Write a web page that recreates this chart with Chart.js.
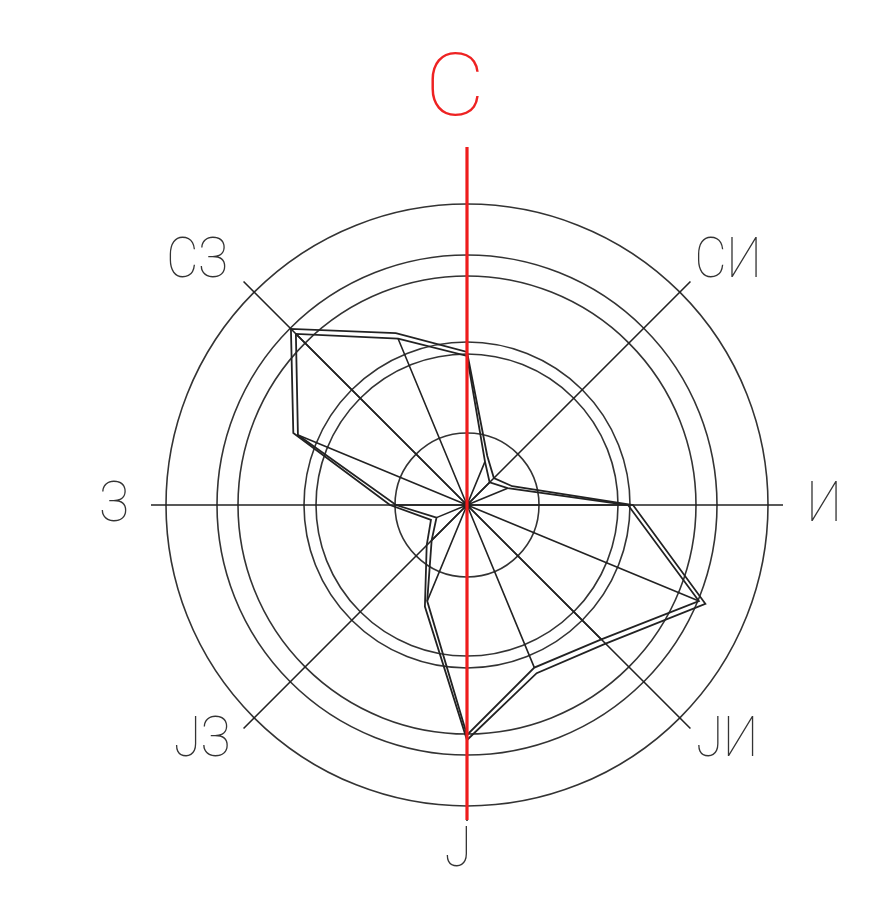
<!DOCTYPE html>
<html>
<head>
<meta charset="utf-8">
<script src="https://cdn.jsdelivr.net/npm/chart.js@4"></script>
<style>
  html, body { margin: 0; padding: 0; background: #fff; }
  canvas { display: block; }
</style>
</head>
<body>
<canvas id="ruza" width="892" height="900"></canvas>
<script>
// 16 pravaca, od severa u smeru kazaljke
const pravci = ['С', 'ССИ', 'СИ', 'ИСИ', 'И', 'ИЈИ', 'ЈИ', 'ЈЈИ', 'Ј', 'ЈЈЗ', 'ЈЗ', 'ЗЈЗ', 'З', 'ЗСЗ', 'СЗ', 'ССЗ'];
const unutrasnja = [149, 47, 32, 44, 161, 251, 190, 176, 230, 104, 50, 33, 71, 183, 242, 180];
const spoljasnja = [153, 53, 38, 49, 166, 258, 196, 182, 235, 110, 57, 39, 77, 188, 249, 186];
const krugovi = [0, 72, 151, 163, 229, 250, 301];
const glavniPravci = ['С', 'СИ', 'И', 'ЈИ', 'Ј', 'ЈЗ', 'З', 'СЗ'];

const crtez = {
    id: 'crtez',
    beforeDatasetsDraw(chart) {
        const ctx = chart.ctx;
        const r = chart.scales.r;
        const cx = r.xCenter, cy = r.yCenter;
        ctx.save();
        ctx.strokeStyle = '#222';
        ctx.lineWidth = 1.6;
        // osnovne ose
        ctx.beginPath();
        for (let i = 0; i < 16; i += 2) {
            const p = r.getPointPosition(i, 316);
            ctx.moveTo(cx, cy);
            ctx.lineTo(p.x, p.y);
        }
        ctx.stroke();
        // zraci do tacaka
        const meta = chart.getDatasetMeta(0);
        ctx.beginPath();
        meta.data.forEach(pt => {
            ctx.moveTo(cx, cy);
            ctx.lineTo(pt.x, pt.y);
        });
        ctx.stroke();
        ctx.restore();
    },
    afterDatasetsDraw(chart) {
        const ctx = chart.ctx;
        const r = chart.scales.r;
        const cx = r.xCenter, cy = r.yCenter;
        ctx.save();
        // crvena osa sever-jug
        ctx.strokeStyle = '#ee1c1c';
        ctx.lineWidth = 3.2;
        const gore = r.getPointPosition(0, 358);
        const dole = r.getPointPosition(8, 315);
        ctx.beginPath();
        ctx.moveTo(gore.x, gore.y);
        ctx.lineTo(dole.x, dole.y);
        ctx.stroke();

        ctx.textAlign = 'center';
        ctx.textBaseline = 'middle';
        ctx.fillStyle = '#ee2222';
        ctx.font = '100 88px Roboto, "DejaVu Sans", sans-serif';
        ctx.save();
        ctx.translate(cx - 12, cy - 412);
        ctx.scale(1.05, 1);
        ctx.fillText('С', 0, 0);
        ctx.restore();

        ctx.fillStyle = '#333';
        ctx.font = '100 55px Roboto, "DejaVu Sans", sans-serif';
        const mesta = {
            'СИ': [261, -242], 'И': [357, 2], 'ЈИ': [260, 237], 'Ј': [-9, 347],
            'ЈЗ': [-265, 237], 'З': [-353, 2], 'СЗ': [-270, -242]
        };
        glavniPravci.slice(1).forEach(t => {
            const [dx, dy] = mesta[t];
            ctx.save();
            ctx.translate(cx + dx, cy + dy);
            ctx.scale(0.9, 1);
            ctx.fillText(t, 0, 0);
            ctx.restore();
        });
        ctx.restore();
    }
};

new Chart(document.getElementById('ruza'), {
    type: 'radar',
    data: {
        labels: pravci,
        datasets: [
            { data: unutrasnja, borderColor: '#222', borderWidth: 1.8, fill: false, pointRadius: 0, tension: 0 },
            { data: spoljasnja, borderColor: '#222', borderWidth: 1.8, fill: false, pointRadius: 0, tension: 0 }
        ]
    },
    options: {
        responsive: false,
        animation: false,
        devicePixelRatio: 1,
        layout: { padding: { left: 166, right: 124, top: 204, bottom: 94 } },
        plugins: { legend: { display: false }, tooltip: { enabled: false } },
        scales: {
            r: {
                min: 0,
                max: 301,
                startAngle: 0,
                afterBuildTicks: s => { s.ticks = krugovi.map(v => ({ value: v })); },
                ticks: { display: false },
                pointLabels: { display: false },
                angleLines: { display: false },
                grid: { circular: true, color: '#333', lineWidth: 1.6 }
            }
        }
    },
    plugins: [crtez]
});
</script>
</body>
</html>
